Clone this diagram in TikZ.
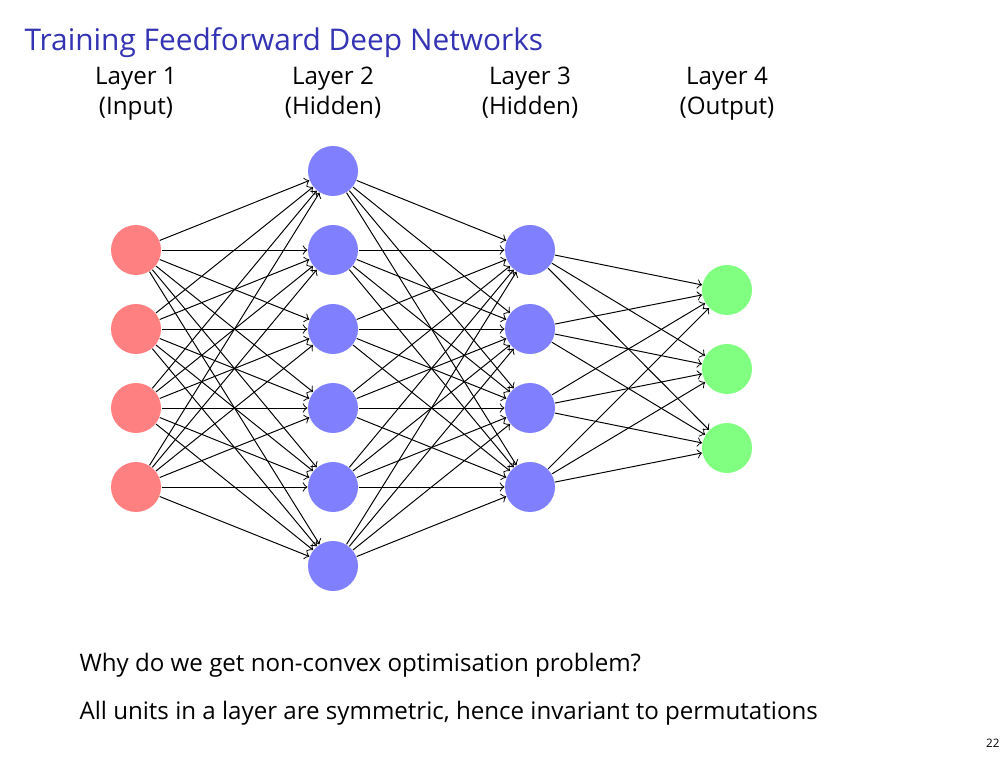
\documentclass[tikz,border=0pt]{standalone}
\usepackage{fontspec}
\setmainfont{Open Sans}
\definecolor{titleblue}{RGB}{51,51,179}
\begin{document}
\begin{tikzpicture}[x=0.36pt,y=-0.36pt,
  neuron/.style={circle,inner sep=0pt,minimum size=18pt},
  inp/.style={neuron,fill=red!50},
  hid/.style={neuron,fill=blue!50},
  outp/.style={neuron,fill=green!50},
  conn/.style={->,line width=0.35pt,black},
  lbl/.style={anchor=base,font=\fontsize{8.7}{10}\selectfont,inner sep=0pt},
  body/.style={anchor=base west,font=\fontsize{8.68}{10}\selectfont,inner sep=0pt}]
\useasboundingbox (0,0) rectangle (1008,756);
\node[anchor=base west,inner sep=0pt,text=titleblue,font=\fontsize{10.75}{13}\selectfont] (title) at (24,50.5) {Training Feedforward Deep Networks};
\node[lbl] (l1a) at (136,85) {Layer 1};
\node[lbl] (l1b) at (136,115) {(Input)};
\node[lbl] (l2a) at (333,85) {Layer 2};
\node[lbl] (l2b) at (333,115) {(Hidden)};
\node[lbl] (l3a) at (530,85) {Layer 3};
\node[lbl] (l3b) at (530,115) {(Hidden)};
\node[lbl] (l4a) at (727,85) {Layer 4};
\node[lbl] (l4b) at (727,115) {(Output)};
\foreach \i in {1,...,4} \node[inp] (I\i) at (136,{171+79*\i}) {};
\foreach \i in {1,...,6} \node[hid] (H\i) at (333,{171+79*(\i-1)}) {};
\foreach \i in {1,...,4} \node[hid] (K\i) at (530,{171+79*\i}) {};
\foreach \i in {1,...,3} \node[outp] (O\i) at (727,{211+79*\i}) {};
\foreach \i in {1,...,4} \foreach \j in {1,...,6} \draw[conn] (I\i) -- (H\j);
\foreach \i in {1,...,6} \foreach \j in {1,...,4} \draw[conn] (H\i) -- (K\j);
\foreach \i in {1,...,4} \foreach \j in {1,...,3} \draw[conn] (K\i) -- (O\j);
\node[body] (q1) at (79,671.7) {Why do we get non-convex optimisation problem?};
\node[body] (q2) at (79,719.5) {All units in a layer are symmetric, hence invariant to permutations};
\node[anchor=base east,inner sep=0pt,font=\fontsize{4.2}{5}\selectfont] (pg) at (1000,747) {22};
\end{tikzpicture}
\end{document}
